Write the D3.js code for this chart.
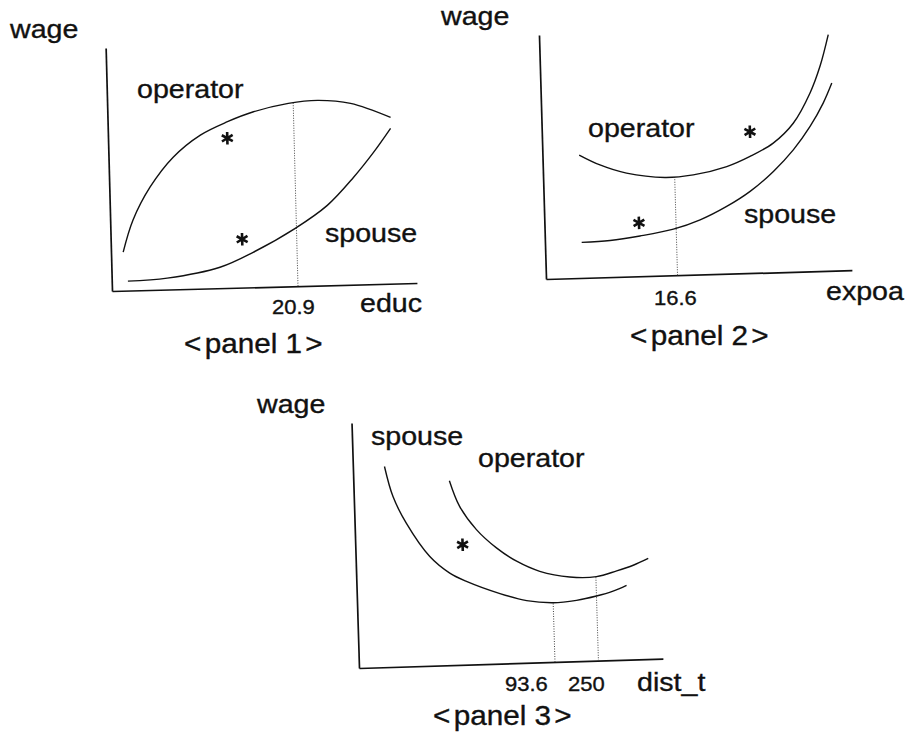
<!DOCTYPE html>
<html>
<head>
<meta charset="utf-8">
<script src="https://cdn.jsdelivr.net/npm/d3@7"></script>
<style>
  body { margin: 0; background: #fff; }
  text { font-family: "Liberation Sans", Arial, sans-serif; fill: #111; stroke: #111; stroke-width: 0.35; }
</style>
</head>
<body>
<div id="chart"></div>
<script>
// schematic units: every panel runs 0..10 on both axes

// panel 1 - educ
const educOperator = [[0.40,1.59],[0.75,2.90],[1.34,4.24],[2.12,5.44],[3.03,6.32],[3.93,6.84],[4.79,7.22],[5.94,7.53],[6.90,7.62],[7.98,7.46],[9.28,6.84]];
const educSpouse = [[0.53,0.39],[1.82,0.47],[3.56,0.86],[4.66,1.44],[6.06,2.38],[7.13,3.29],[8.01,4.41],[8.69,5.42],[9.27,6.39]];
const educStars = [[3.91,6.16],[4.31,1.99]];
const educMarks = [[6.10,7.55]]; // x, top of dotted line

// panel 2 - expoa
const expoaOperator = [[1.20,5.04],[1.87,4.61],[2.73,4.24],[3.98,4.02],[4.91,4.09],[6.01,4.39],[6.78,4.78],[7.55,5.30],[8.23,6.10],[8.80,7.31],[9.15,8.39],[9.45,9.68]];
const expoaSpouse = [[1.20,1.46],[2.13,1.50],[3.11,1.65],[4.21,1.89],[5.09,2.24],[5.97,2.76],[6.75,3.35],[7.53,4.14],[8.20,5.00],[8.77,5.94],[9.22,6.88],[9.52,7.69]];
const expoaStars = [[6.80,5.79],[3.09,2.19]];
const expoaMarks = [[4.30,4.02]];

// panel 3 - dist_t
const distSpouse = [[1.04,8.19],[1.29,6.95],[1.70,5.85],[2.44,4.46],[3.08,3.76],[3.62,3.40],[4.71,2.86],[5.58,2.54],[6.45,2.42],[7.22,2.49],[7.88,2.64],[8.43,2.82],[8.88,3.04]];
const distOperator = [[3.16,7.53],[3.47,6.47],[4.00,5.50],[4.64,4.73],[5.29,4.16],[6.04,3.72],[7.02,3.45],[7.90,3.43],[8.57,3.64],[9.12,3.85],[9.62,4.11]];
const distStars = [[3.53,4.90]];
const distMarks = [[6.45,2.42],[7.88,3.43]];

// text
const panel1Text = ["wage", "operator", "spouse", "20.9", "educ", "<panel 1>"];
const panel2Text = ["wage", "operator", "spouse", "16.6", "expoa", "<panel 2>"];
const panel3Text = ["wage", "spouse", "operator", "93.6", "250", "dist_t", "<panel 3>"];

const width = 913, height = 738;

let svg = d3.select("#chart")
    .append("svg")
    .attr("width", width)
    .attr("height", height);

// the scan is tilted a little, so each panel frame is rotated
const panels = [
    { origin: [112, 291], w: 305, h: 243, angle: -1.5, curves: [educOperator, educSpouse], stars: educStars, marks: educMarks },
    { origin: [546, 279], w: 306, h: 244, angle: -1.65, curves: [expoaOperator, expoaSpouse], stars: expoaStars, marks: expoaMarks },
    { origin: [359, 668], w: 304, h: 245, angle: -1.75, curves: [distSpouse, distOperator], stars: distStars, marks: distMarks }
];

panels.forEach(p => {
    let x = d3.scaleLinear().domain([0, 10]).range([0, p.w]);
    let y = d3.scaleLinear().domain([0, 10]).range([0, -p.h]); // up is negative

    let g = svg.append("g")
        .attr("transform", `translate(${p.origin[0]},${p.origin[1]}) rotate(${p.angle})`);

    // bare axes, no ticks
    g.append("g")
        .call(d3.axisBottom(x).tickValues([]).tickSizeOuter(0))
        .call(a => a.select(".domain").attr("stroke", "#111").attr("stroke-width", 1.7));
    g.append("g")
        .call(d3.axisLeft(y).tickValues([]).tickSizeOuter(0))
        .call(a => a.select(".domain").attr("stroke", "#111").attr("stroke-width", 1.7));

    // dotted drop lines
    g.selectAll(".mark")
        .data(p.marks)
        .join("line")
        .attr("class", "mark")
        .attr("x1", d => x(d[0]))
        .attr("x2", d => x(d[0]))
        .attr("y1", y(0))
        .attr("y2", d => y(d[1]))
        .attr("stroke", "#444")
        .attr("stroke-width", 1)
        .attr("stroke-dasharray", "1,1.5");

    let line = d3.line()
        .x(d => x(d[0]))
        .y(d => y(d[1]))
        .curve(d3.curveCatmullRom);

    g.selectAll(".curve")
        .data(p.curves)
        .join("path")
        .attr("class", "curve")
        .attr("d", line)
        .attr("fill", "none")
        .attr("stroke", "#111")
        .attr("stroke-width", 1.4);

    g.selectAll(".star")
        .data(p.stars)
        .join("path")
        .attr("class", "star")
        .attr("transform", d => `translate(${x(d[0])},${y(d[1])})`)
        .attr("d", d3.symbol(d3.symbolAsterisk).size(110))
        .attr("stroke", "#111")
        .attr("stroke-width", 2.6);
});

// label positions: [x, baseline, font size]
const panel1Pos = [[10,38,26],[137,98,26],[325,242,26],[272,314,20],[360,312,26],[184,353,27]];
const panel2Pos = [[441,25,26],[588,137,26],[744,223,26],[654,305,20],[826,300,26],[630,345,27]];
const panel3Pos = [[257,413,26],[371,445,26],[478,467,26],[505,691,20],[568,691,20],[637,691,26],[433,725,27]];

function addLabels(texts, pos) {
    svg.append("g")
        .selectAll("text")
        .data(texts)
        .join("text")
        .attr("transform", (d, i) => `translate(${pos[i][0]},${pos[i][1]}) scale(1.1,1)`)
        .attr("font-size", (d, i) => pos[i][2])
        // the scanned titles have a small gap inside the brackets
        .attr("dx", d => d.startsWith("<") ? "0 3 0 0 0 0 0 0 3" : null)
        .text(d => d);
}

addLabels(panel1Text, panel1Pos);
addLabels(panel2Text, panel2Pos);
addLabels(panel3Text, panel3Pos);
</script>
</body>
</html>
